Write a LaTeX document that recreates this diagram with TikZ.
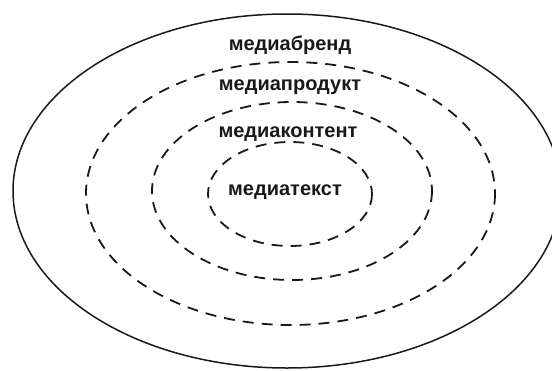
\documentclass[tikz,border=0pt]{standalone}
\usepackage{fontspec}
\setmainfont{Liberation Sans}
\usepackage{tikz}

\begin{document}
\begin{tikzpicture}[x=1pt,y=-1pt,font=\bfseries\fontsize{20}{24}\selectfont,
  outerring/.style={draw=black!90,line width=1.5pt},
  ring/.style={draw=black!90,line width=1.8pt,dash pattern=on 11pt off 8pt},
  lbl/.style={anchor=base,inner sep=0pt,text=black!90}]
\useasboundingbox (0,0) rectangle (552,370);
% rings, from outside in
\draw[outerring] (287,191) ellipse [x radius=274,y radius=177];
\draw[ring] (290.5,193.5) ellipse [x radius=204.5,y radius=131.5];
\draw[ring] (292,191) ellipse [x radius=140,y radius=89];
\draw[ring] (290,194) ellipse [x radius=82,y radius=52];
% labels
\node[lbl] (brand) at (290,50) {медиабренд};
\node[lbl] (product) at (290,90) {медиапродукт};
\node[lbl] (content) at (288,137) {медиаконтент};
\node[lbl] (text) at (285,195) {медиатекст};
\end{tikzpicture}
\end{document}
